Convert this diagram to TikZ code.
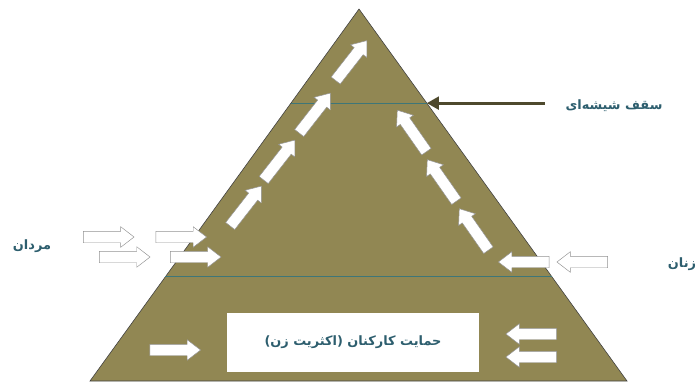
\documentclass[tikz,border=0pt]{standalone}
\usepackage{fontspec}
\newfontfamily\fafont[Script=Arabic]{DejaVu Sans}
\TeXXeTstate=1
\usetikzlibrary{shapes.arrows,arrows.meta,calc}
\definecolor{pyr}{RGB}{145,135,83}
\definecolor{txt}{RGB}{45,94,110}
\definecolor{ceilc}{RGB}{62,118,120}
\definecolor{dk}{RGB}{78,73,45}

\begin{document}
\begin{tikzpicture}[
    x=0.03cm, y=-0.03cm,
    blk/.style={single arrow, draw=gray!85, fill=white, line width=0.4pt,
        inner xsep=0pt, inner ysep=0.165cm, minimum height=1.52cm,
        single arrow head extend=0.135cm, single arrow tip angle=75},
    lbl/.style={font=\fafont\bfseries\fontsize{11}{13}\selectfont, text=txt},
    hl/.style={ceilc, line width=0.9pt}
]
    \useasboundingbox (0,0) rectangle (697,382);

    \coordinate (top) at (359,9);
    \coordinate (bl) at (90,381);
    \coordinate (br) at (627,381);
    \filldraw[fill=pyr, draw=gray!50!black, line width=0.5pt] (top) -- (bl) -- (br) -- cycle;

    \coordinate (gl) at ($(top)!0.253!(bl)$);
    \coordinate (gr) at ($(top)!0.253!(br)$);
    \draw[hl] (gl) -- (gr);
    \coordinate (ll) at ($(top)!0.72!(bl)$);
    \coordinate (lr) at ($(top)!0.72!(br)$);
    \draw[hl] (ll) -- (lr);

    \node[lbl, fill=white, minimum width=7.56cm, minimum height=1.77cm] (box) at (353,342.5)
        {\beginR حمایت کارکنان (اکثریت زن)\endR};

    \node[lbl] (glass) at (614,106) {\beginR سقف شیشه‌ای\endR};
    \draw[dk, line width=2.4pt, -{Triangle[length=3.6mm,width=3.8mm]}]
        ([xshift=-0.5cm]glass.west |- gr) -- (gr);

    \node[lbl] (men) at (32,246) {\beginR مردان\endR};
    \node[lbl] (women) at (682,264) {\beginR زنان\endR};

    % men coming in
    \node[blk] (m1) at (105,237) {};
    \node[blk] (m2) at (177.5,237) {};
    \node[blk] (m3) at (121,257) {};
    \node[blk] (m4) at (192,257) {};
    \node[blk, rotate=52] (m5) at (243.5,209) {};
    \node[blk, rotate=52] (m6) at (277,163) {};
    \node[blk, rotate=52] (m7) at (312.5,116) {};
    \node[blk, rotate=52] (m8) at (349,63.5) {};

    % women coming in
    \node[blk, rotate=180] (w1) at (586,262) {};
    \node[blk, rotate=180] (w2) at (527.5,262) {};
    \node[blk, rotate=125] (w3) at (476,232.5) {};
    \node[blk, rotate=125] (w4) at (444,183.5) {};
    \node[blk, rotate=125] (w5) at (414,134) {};

    % support staff
    \node[blk] (s1) at (171.5,350) {};
    \node[blk, rotate=180] (s2) at (535,334) {};
    \node[blk, rotate=180] (s3) at (535,357) {};
\end{tikzpicture}
\end{document}
